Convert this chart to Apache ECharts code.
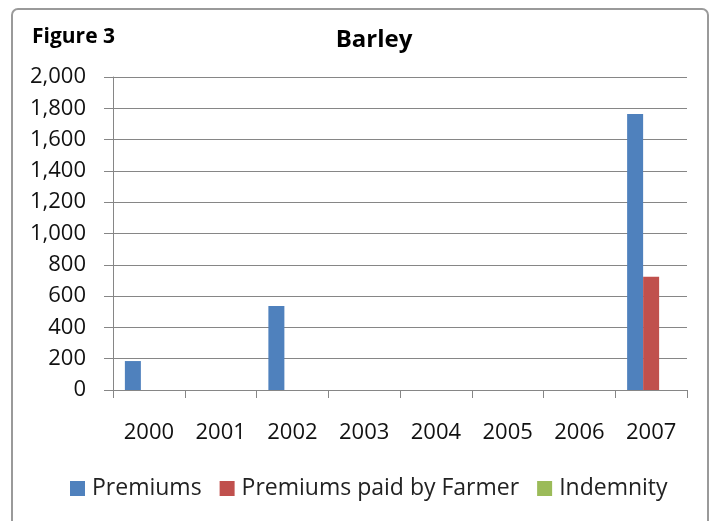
<!DOCTYPE html>
<html>
<head>
<meta charset="utf-8">
<script src="https://cdn.jsdelivr.net/npm/echarts@6/dist/echarts.min.js"></script>
<style>
  html, body { margin: 0; padding: 0; background: #fff; }
  #chart { width: 713px; height: 521px; }
</style>
</head>
<body>
<div id="chart"></div>
<script>
// values
var years = ['2000', '2001', '2002', '2003', '2004', '2005', '2006', '2007'];
var premiums = [185, 0, 537, 0, 0, 0, 0, 1764];
var paidByFarmer = [0, 0, 0, 0, 0, 0, 0, 724];
var indemnity = [0, 0, 0, 0, 0, 0, 0, 0];

var font = '"Open Sans", Lato, sans-serif';
var chart = echarts.init(document.getElementById('chart'));

chart.setOption({
  animation: false,
  textStyle: { fontFamily: font },
  graphic: [
    { type: 'rect', shape: { x: 12, y: 9, width: 696, height: 530, r: 6 },
      style: { fill: 'none', stroke: '#9a9a9a', lineWidth: 2 } },
    { type: 'text', x: 32, y: 37,
      style: { text: 'Figure 3', font: 'bold 21px ' + font, fill: '#000', verticalAlign: 'middle' } },
    { type: 'text', x: 374, y: 40,
      style: { text: 'Barley', font: 'bold 24px ' + font, fill: '#000', align: 'center', verticalAlign: 'middle' } }
  ],
  legend: {
    left: 65, top: 472,
    itemWidth: 15, itemHeight: 15, itemGap: 18,
    icon: 'rect',
    textStyle: { fontSize: 23, color: '#222', fontFamily: font, padding: [0, 0, 0, 2] },
    data: ['Premiums', 'Premiums paid by Farmer', 'Indemnity']
  },
  grid: { left: 113, right: 26, top: 77, bottom: 131 },
  xAxis: {
    type: 'category',
    data: years,
    axisLine: { lineStyle: { color: '#868686', width: 1 } },
    axisTick: { show: true, length: 8, lineStyle: { color: '#868686' } },
    axisLabel: { fontSize: 22, color: '#111', margin: 32, fontFamily: font }
  },
  yAxis: {
    type: 'value',
    min: 0, max: 2000, interval: 200,
    axisLine: { show: true, lineStyle: { color: '#868686', width: 1 } },
    axisTick: { show: true, length: 9, lineStyle: { color: '#868686' } },
    splitLine: { lineStyle: { color: '#868686', width: 1 } },
    axisLabel: {
      fontSize: 22, color: '#111', margin: 27, fontFamily: font,
      formatter: function (v) { return v.toLocaleString('en-US'); }
    }
  },
  series: [
    { name: 'Premiums', type: 'bar', data: premiums, barWidth: 16, barGap: '0%',
      itemStyle: { color: '#4F81BD' } },
    { name: 'Premiums paid by Farmer', type: 'bar', data: paidByFarmer, barWidth: 16,
      itemStyle: { color: '#C0504D' } },
    { name: 'Indemnity', type: 'bar', data: indemnity, barWidth: 16,
      itemStyle: { color: '#9BBB59' } }
  ]
});
</script>
</body>
</html>
